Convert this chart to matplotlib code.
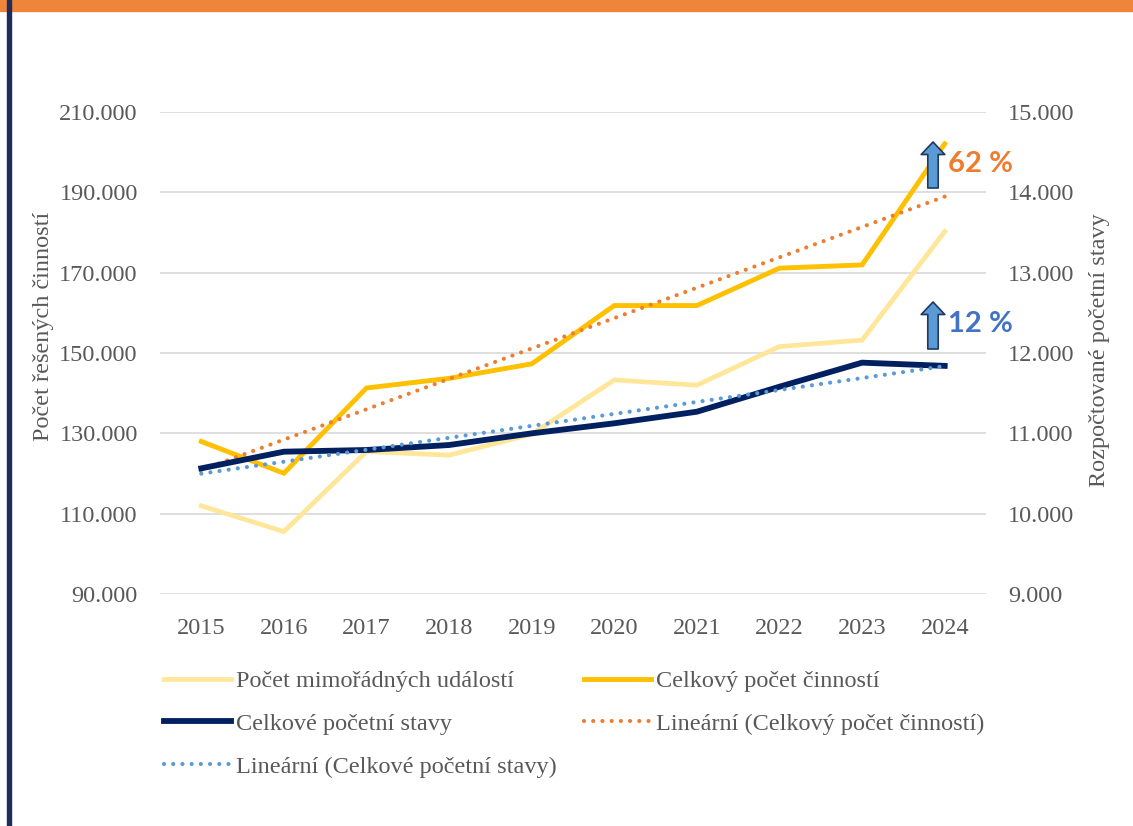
import numpy as np
import matplotlib.pyplot as plt
from matplotlib.patches import FancyArrowPatch, Rectangle
from matplotlib.lines import Line2D

years = [2015, 2016, 2017, 2018, 2019, 2020, 2021, 2022, 2023, 2024]
mimoradne_udalosti = [112000, 105600, 125500, 124600, 129800, 143300, 142000, 151600, 153200, 180200]
celkovy_pocet_cinnosti = [128000, 120100, 141300, 143700, 147300, 161800, 161800, 171100, 171900, 202000]
pocetni_stavy = [10566, 10773, 10794, 10856, 11001, 11126, 11270, 11581, 11880, 11840]

left_ticks = [90000, 110000, 130000, 150000, 170000, 190000, 210000]
right_ticks = [9000, 10000, 11000, 12000, 13000, 14000, 15000]

GREY = "#595959"
SERIF = "Liberation Serif"
FS = 17.5
DOTS = (0, (0.01, 2.2))


def fmt(v):
    return "{:,.0f}".format(v).replace(",", ".")


fig = plt.figure(figsize=(11.33, 8.26), dpi=100)
fig.patch.set_facecolor("white")

# decorative frame from the source slide
fig.patches.append(Rectangle((0, 1 - 11 / 826), 1, 11 / 826, transform=fig.transFigure,
                             color="#EF853B", zorder=0))
fig.patches.append(Rectangle((7 / 1133, 0), 4 / 1133, 1, transform=fig.transFigure,
                             color="#1F2D5A", zorder=1))

ax = fig.add_axes([160 / 1133, 1 - 594.3 / 826, 826 / 1133, 482.6 / 826])
ax2 = ax.twinx()

x = np.arange(len(years))

ax.plot(x, mimoradne_udalosti, color="#FFE699", lw=3.4, solid_joinstyle="miter", zorder=3)
ax.plot(x, celkovy_pocet_cinnosti, color="#FFC000", lw=3.5, solid_joinstyle="miter", zorder=4)
k, q = np.polyfit(x, celkovy_pocet_cinnosti, 1)
ax.plot(x, k * x + q, color="#ED7D31", lw=3.0, linestyle=DOTS,
        dash_capstyle="round", zorder=5)

ax2.plot(x, pocetni_stavy, color="#002060", lw=4.2, solid_joinstyle="miter", zorder=3)
k2, q2 = np.polyfit(x, pocetni_stavy, 1)
ax2.plot(x, k2 * x + q2, color="#5B9BD5", lw=3.0, linestyle=DOTS,
         dash_capstyle="round", zorder=4)

ax.set_xlim(-0.5, len(years) - 0.5)
ax.set_ylim(90000, 210000)
ax2.set_ylim(9000, 15000)
ax.set_yticks(left_ticks)
ax.set_yticklabels([fmt(v) for v in left_ticks])
ax2.set_yticks(right_ticks)
ax2.set_yticklabels([fmt(v) for v in right_ticks])
ax.set_xticks(x)
ax.set_xticklabels([str(y) for y in years])

ax.grid(axis="y", color="#D9D9D9", lw=1.2)
ax.set_axisbelow(True)
for a in (ax, ax2):
    for s in a.spines.values():
        s.set_visible(False)
    a.tick_params(length=0, labelsize=FS, labelcolor=GREY)
    for t in a.get_xticklabels() + a.get_yticklabels():
        t.set_fontfamily(SERIF)
ax.tick_params(axis="y", pad=16)
ax2.tick_params(axis="y", pad=16)
ax.tick_params(axis="x", pad=17)

fig.text(44 / 1133, 1 - 326 / 826, "Počet řešených činností", rotation=90,
         ha="center", va="center", fontsize=FS, color=GREY, family=SERIF)
fig.text(1099 / 1133, 1 - 350 / 826, "Rozpočtované početní stavy", rotation=90,
         ha="center", va="center", fontsize=FS, color=GREY, family=SERIF)

# arrows and growth labels
for y_bot, y_top, label, col in [(188, 142, "62 %", "#ED7D31"), (349, 302, "12 %", "#4472C4")]:
    arr = FancyArrowPatch((933, 826 - y_bot), (933, 826 - y_top), transform=None,
                          arrowstyle="simple,head_width=17,head_length=9,tail_width=7.5",
                          mutation_scale=1, shrinkA=0, shrinkB=0,
                          fc="#5B9BD5", ec="#1F3864", lw=1.2, zorder=10)
    fig.patches.append(arr)
    fig.text(948 / 1133, 1 - ((y_bot + y_top) / 2 - 1) / 826, label, ha="left", va="center",
             fontsize=21, fontweight="bold", color=col, family="Lato")

handles = [
    Line2D([], [], color="#FFE699", lw=3.4),
    Line2D([], [], color="#002060", lw=4.2),
    Line2D([], [], color="#5B9BD5", lw=3.0, linestyle=DOTS, dash_capstyle="round"),
    Line2D([], [], color="#FFC000", lw=3.5),
    Line2D([], [], color="#ED7D31", lw=3.0, linestyle=DOTS, dash_capstyle="round"),
]
labels = [
    "Počet mimořádných událostí",
    "Celkové početní stavy",
    "Lineární (Celkové početní stavy)",
    "Celkový počet činností",
    "Lineární (Celkový počet činností)",
]
leg = fig.legend(handles, labels, ncol=2, loc="upper left",
                 bbox_to_anchor=(164 / 1133, 1 - 670 / 826), frameon=False,
                 prop={"family": SERIF, "size": FS}, labelcolor=GREY,
                 handlelength=2.75, handletextpad=0.2, columnspacing=1.15,
                 labelspacing=0.86, borderaxespad=0, borderpad=0)

fig.savefig("out.png", dpi=100)
